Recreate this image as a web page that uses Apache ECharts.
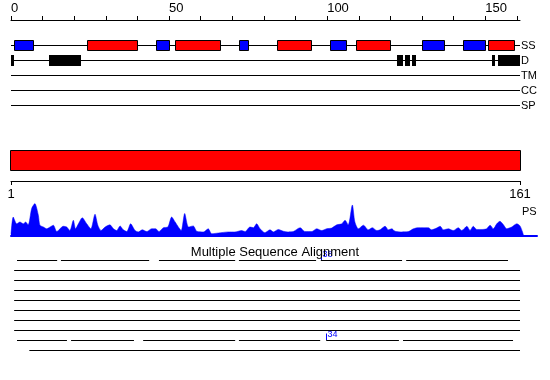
<!DOCTYPE html>
<html><head><meta charset="utf-8">
<script src="https://cdn.jsdelivr.net/npm/echarts@6/dist/echarts.min.js"></script>
<style>html,body{margin:0;padding:0;background:#fff}#c{width:550px;height:380px}</style>
</head><body><div id="c"></div>
<script>
// ---- data ----
const seqLength = 161;
const topTickValues = [0,10,20,30,40,50,60,70,80,90,100,110,120,130,140,150,160];
const topLabelValues = [0,50,100,150];
const trackNames = ['SS','D','TM','CC','SP'];
const helixSegments = [[24,40],[52,66],[84,95],[109,120],[151,159]];
const strandSegments = [[1,7],[46,50],[72,75],[101,106],[130,137],[143,150]];
const disorderSegments = [[0,1],[12,22],[122,124],[124.5,126.2],[126.8,128.2],[152,153],[154,161]];
const domainBar = [1,161];
const bottomLabelValues = [1,161];
const psLabel = 'PS';
const psProfile = [
 [1,0.03],[1.7,0.52],[2.8,0.33],[3.8,0.38],[4.9,0.33],[5.6,0.38],[6.4,0.30],[7.5,0.76],[8.5,0.90],[9.6,0.57],
 [10.1,0.29],[11.2,0.24],[12.2,0.19],[13.3,0.24],[14.3,0.29],[15.4,0.11],[16.4,0.19],[17.4,0.26],[18.5,0.24],[19.5,0.14],
 [20.6,0.43],[21.3,0.19],[22.2,0.33],[23.4,0.50],[24.8,0.33],[26.1,0.19],[27.4,0.60],[28.3,0.29],[29.3,0.14],[30.6,0.24],
 [32.1,0.30],[33.2,0.19],[34.2,0.14],[35.3,0.27],[36.3,0.16],[37.4,0.11],[38.6,0.33],[40.0,0.14],[41.0,0.10],[42.3,0.16],
 [43.7,0.11],[45.2,0.19],[46.5,0.19],[47.5,0.11],[48.9,0.22],[50.3,0.24],[51.5,0.52],[52.6,0.38],[53.6,0.24],[54.5,0.14],
 [55.6,0.62],[56.8,0.24],[58.3,0.27],[59.4,0.12],[61.5,0.10],[63.0,0.19],[64.1,0.05],[66.2,0.07],[69.3,0.10],[71.4,0.10],
 [73.5,0.14],[74.6,0.11],[76.1,0.24],[77.2,0.22],[78.2,0.33],[79.3,0.19],[80.8,0.08],[82.4,0.16],[83.5,0.10],[85.0,0.17],
 [86.6,0.12],[88.2,0.10],[89.7,0.11],[91.9,0.22],[93.4,0.11],[95.5,0.11],[97.1,0.19],[98.7,0.14],[100.2,0.19],[101.8,0.21],
 [103.4,0.30],[105.0,0.33],[106.0,0.43],[107.0,0.30],[108.3,0.86],[109.1,0.38],[110.2,0.19],[111.8,0.29],[113.3,0.16],[114.6,0.22],
 [116.0,0.14],[117.0,0.16],[118.6,0.26],[119.6,0.16],[120.7,0.19],[121.7,0.12],[123.8,0.10],[125.9,0.11],[127.5,0.19],[129.0,0.22],
 [130.6,0.22],[132.2,0.22],[133.2,0.16],[134.8,0.21],[135.9,0.26],[136.9,0.16],[138.5,0.19],[140.0,0.14],[141.6,0.22],[142.7,0.14],
 [144.3,0.26],[145.3,0.14],[146.3,0.26],[147.4,0.17],[149.0,0.17],[150.5,0.19],[151.6,0.29],[152.6,0.19],[153.7,0.33],[154.7,0.40],
 [155.8,0.30],[156.8,0.19],[158.4,0.24],[160.0,0.33],[161.0,0.27],[161.8,0.10],[162.1,0]
];
const msaTitle = 'Multiple Sequence Alignment';
const msaRowNames = ['r1','r2','r3','r4','r5','r6','r7','r8','r9','r10'];
const msaSegments = [
 [0,1.9,14.6],[0,15.8,43.7],[0,46.8,70.9],[0,72.1,96.5],[0,98.0,123.7],[0,125.0,157.2],
 [1,1.0,161],[2,1.0,161],[3,1.0,161],[4,1.0,161],[5,1.0,161],[6,1.0,161],[7,1.0,161],
 [8,1.9,17.7],[8,19.0,38.9],[8,41.8,70.9],[8,72.1,97.8],[8,99.7,122.7],[8,124.0,158.8],
 [9,5.8,161]
];
const msaMarkers = [[0,98.0,'38'],[8,99.7,'34']];

// ---- chart ----
const FONT = 'Liberation Sans';
const chart = echarts.init(document.getElementById('c'), null, {renderer:'canvas'});
const trackData = [];
trackNames.forEach((n,i)=>trackData.push([0, seqLength, i, 0]));
helixSegments.forEach(s=>trackData.push([s[0], s[1], 0, 1]));
strandSegments.forEach(s=>trackData.push([s[0], s[1], 0, 2]));
disorderSegments.forEach(s=>trackData.push([s[0], s[1], 1, 3]));

function renderTrack(params, api){
  const a = api.coord([api.value(0), api.value(2)]);
  const b = api.coord([api.value(1), api.value(2)]);
  const k = api.value(3);
  const y = a[1];
  if (k === 0) return {type:'line', z2:0, shape:{x1:a[0], y1:y, x2:b[0], y2:y}, style:{stroke:'#000', lineWidth:1}};
  const x1 = Math.round(a[0]), x2 = Math.round(b[0]);
  if (k === 3) return {type:'rect', z2:5, shape:{x:x1, y:y-5.5, width:Math.max(x2-x1,2), height:11}, style:{fill:'#000'}};
  return {type:'rect', z2:5, shape:{x:x1+0.5, y:y-5, width:x2-x1, height:10},
          style:{fill: k === 1 ? '#ff0000' : '#0000ff', stroke:'#000', lineWidth:1}};
}
function renderBar(params, api){
  const a = api.coord([api.value(0), 1]);
  const b = api.coord([api.value(1), 1]);
  const cs = params.coordSys;
  return {type:'rect', shape:{x:Math.round(a[0])-0.5, y:cs.y+0.5, width:Math.round(b[0])-Math.round(a[0])+1, height:20},
          style:{fill:'#ff0000', stroke:'#000', lineWidth:1}};
}
function renderMsa(params, api){
  const a = api.coord([api.value(1), api.value(0)]);
  const b = api.coord([api.value(2), api.value(0)]);
  return {type:'line', shape:{x1:a[0], y1:a[1], x2:b[0], y2:b[1]}, style:{stroke:'#000', lineWidth:1}};
}
function renderMarker(params, api){
  const p = api.coord([api.value(1), api.value(0)]);
  const x = Math.round(p[0]) + 0.5;
  const lbl = msaMarkers[params.dataIndex][2];
  return {type:'group', children:[
    {type:'line', shape:{x1:x, y1:p[1]-7, x2:x, y2:p[1]-0.5}, style:{stroke:'#0000ff', lineWidth:1}},
    {type:'text', x:x+1, y:p[1]-1, style:{text:lbl, fill:'#0000ff', font:'9px ' + FONT, textVerticalAlign:'bottom', textAlign:'left'}}
  ]};
}

const psMax = 1 + 160*526/509;
const option = {
  animation:false,
  backgroundColor:'#fff',
  title:{text:msaTitle, left:'center', top:245.5, padding:0,
         textStyle:{fontFamily:FONT, fontSize:13, fontWeight:'normal', color:'#000'}},
  graphic:[{type:'text', left:522, top:206, style:{text:psLabel, font:'11px ' + FONT, fill:'#000'}}],
  grid:[
    {left:11, right:30, top:15, height:5},
    {left:11, right:30, top:38, height:75},
    {left:11, right:30, top:150, height:31},
    {left:11, right:13, top:200, height:35.5},
    {left:11, right:30, top:255.5, height:100}
  ],
  xAxis:[
    {gridIndex:0, type:'value', position:'top', min:0, max:seqLength,
     axisLine:{show:true, lineStyle:{color:'#000', width:1}},
     axisTick:{show:true, length:4, customValues:topTickValues, lineStyle:{color:'#000'}},
     axisLabel:{show:true, customValues:topLabelValues, align:'left', margin:0, color:'#000', fontFamily:FONT, fontSize:13},
     splitLine:{show:false}},
    {gridIndex:1, type:'value', min:0, max:seqLength, show:false},
    {gridIndex:2, type:'value', position:'bottom', min:1, max:seqLength,
     axisLine:{show:true, lineStyle:{color:'#000', width:1}},
     axisTick:{show:true, length:4, customValues:bottomLabelValues, lineStyle:{color:'#000'}},
     axisLabel:{show:true, customValues:bottomLabelValues, margin:7, color:'#000', fontFamily:FONT, fontSize:13},
     splitLine:{show:false}},
    {gridIndex:3, type:'value', min:1, max:psMax,
     axisLine:{show:true, lineStyle:{color:'#0000ff', width:2}},
     axisTick:{show:false}, axisLabel:{show:false}, splitLine:{show:false}},
    {gridIndex:4, type:'value', min:0, max:seqLength, show:false}
  ],
  yAxis:[
    {gridIndex:0, type:'value', show:false},
    {gridIndex:1, type:'category', data:trackNames, inverse:true, position:'right',
     axisLine:{show:false}, axisTick:{show:false}, splitLine:{show:false},
     axisLabel:{margin:1, color:'#000', fontFamily:FONT, fontSize:11}},
    {gridIndex:2, type:'value', min:0, max:1, show:false},
    {gridIndex:3, type:'value', min:0, max:1, show:false},
    {gridIndex:4, type:'category', data:msaRowNames, inverse:true, show:false}
  ],
  series:[
    {type:'custom', xAxisIndex:1, yAxisIndex:1, data:trackData, renderItem:renderTrack, encode:{x:[0,1], y:2}, silent:true},
    {type:'custom', xAxisIndex:2, yAxisIndex:2, data:[domainBar], renderItem:renderBar, encode:{x:[0,1]}, silent:true},
    {type:'line', xAxisIndex:3, yAxisIndex:3, data:psProfile, showSymbol:false, symbol:'none', smooth:0.25,
     lineStyle:{color:'#0000ff', width:0.5}, areaStyle:{color:'#0000ff', opacity:1}, silent:true},
    {type:'custom', xAxisIndex:4, yAxisIndex:4, data:msaSegments, renderItem:renderMsa, encode:{x:[1,2], y:0}, silent:true},
    {type:'custom', xAxisIndex:4, yAxisIndex:4, data:msaMarkers.map(m=>[m[0], m[1]]), renderItem:renderMarker, encode:{x:1, y:0}, silent:true}
  ]
};
chart.setOption(option);
</script>
</body></html>
